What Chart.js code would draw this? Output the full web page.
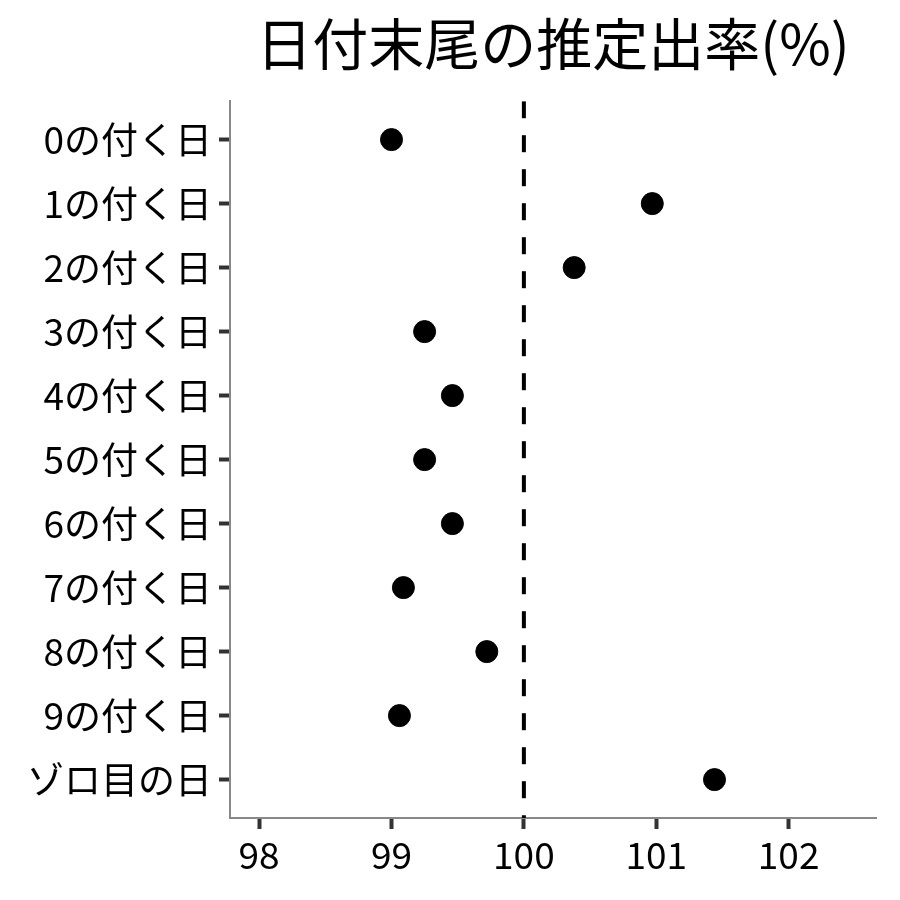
<!DOCTYPE html>
<html>
<head>
<meta charset="utf-8">
<script src="https://cdn.jsdelivr.net/npm/chart.js@4/dist/chart.umd.min.js"></script>
<style>
    body { margin: 0; background: #ffffff; }
    #wrap { width: 900px; height: 900px; }
</style>
</head>
<body>
<div id="wrap"><canvas id="rateChart" width="900" height="900"></canvas></div>
<script>
// chart data
var categories = ['0の付く日', '1の付く日', '2の付く日', '3の付く日', '4の付く日', '5の付く日',
    '6の付く日', '7の付く日', '8の付く日', '9の付く日', 'ゾロ目の日'];
var payoutRates = [99.0, 100.97, 100.38, 99.25, 99.46, 99.25, 99.46, 99.09, 99.72, 99.06, 101.44];
var xTicks = [98, 99, 100, 101, 102];
var refValue = 100;

var fontFamily = '"Noto Sans CJK JP", "Noto Sans", sans-serif';

var points = categories.map(function (c, i) {
    return { x: payoutRates[i], y: i };
});

var ctx = document.getElementById('rateChart').getContext('2d');
var rateChart = new Chart(ctx, {
    type: 'scatter',
    data: {
        datasets: [{
            data: points,
            backgroundColor: '#000000',
            borderColor: '#000000',
            pointRadius: 11,
            pointHoverRadius: 11
        },
        {
            type: 'line',
            data: [{ x: refValue, y: -0.6 }, { x: refValue, y: categories.length - 0.4 }],
            borderColor: '#000000',
            borderWidth: 4,
            borderDash: [17, 17],
            pointRadius: 0,
            fill: false
        }]
    },
    options: {
        responsive: false,
        animation: false,
        layout: {
            padding: { top: 0, right: 24, bottom: 0, left: 0 }
        },
        plugins: {
            legend: { display: false },
            tooltip: { enabled: false },
            title: {
                display: true,
                text: '日付末尾の推定出率(%)',
                fullSize: false,
                color: '#000000',
                font: { family: fontFamily, size: 56, weight: 'normal' },
                padding: { top: 10, bottom: 24 }
            }
        },
        scales: {
            x: {
                type: 'linear',
                min: 97.78,
                max: 102.66,
                afterBuildTicks: function (axis) {
                    axis.ticks = xTicks.map(function (v) { return { value: v }; });
                },
                afterFit: function (axis) { axis.height = 82; },
                grid: {
                    drawOnChartArea: false,
                    tickLength: 11,
                    tickColor: '#333333',
                    tickWidth: 4
                },
                border: { color: '#888888', width: 2 },
                ticks: {
                    color: '#000000',
                    padding: 4,
                    font: { family: fontFamily, size: 37 }
                }
            },
            y: {
                type: 'linear',
                reverse: true,
                min: -0.6,
                max: categories.length - 0.4,
                afterBuildTicks: function (axis) {
                    axis.ticks = categories.map(function (c, i) { return { value: i }; });
                },
                afterFit: function (axis) { axis.width = 230; },
                grid: {
                    drawOnChartArea: false,
                    tickLength: 11,
                    tickColor: '#333333',
                    tickWidth: 4
                },
                border: { color: '#888888', width: 2 },
                ticks: {
                    color: '#000000',
                    padding: 7,
                    font: { family: fontFamily, size: 37 },
                    callback: function (value) {
                        return categories[value];
                    }
                }
            }
        }
    }
});
</script>
</body>
</html>
